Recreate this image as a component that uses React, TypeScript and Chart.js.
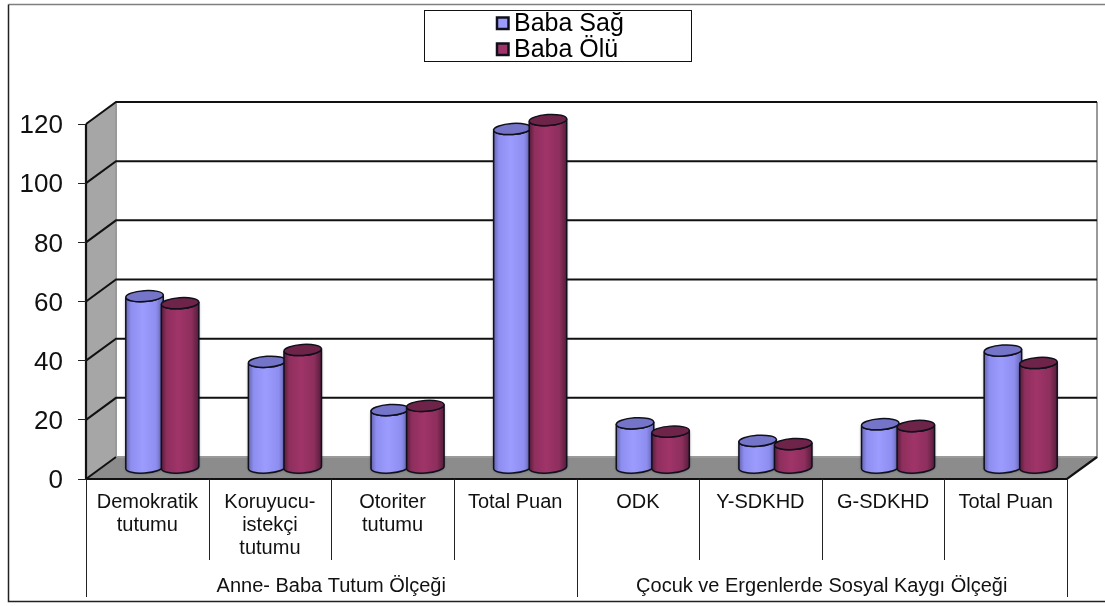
import React, { useEffect, useRef } from "react";
import { Chart, registerables, BarController, BarElement } from "chart.js";

Chart.register(...registerables);

const categories = [
  ["Demokratik", "tutumu"],
  ["Koruyucu-", "istekçi", "tutumu"],
  ["Otoriter", "tutumu"],
  "Total Puan",
  "ODK",
  "Y-SDKHD",
  "G-SDKHD",
  "Total Puan",
];
const groups = ["Anne- Baba Tutum Ölçeği", "Çocuk ve Ergenlerde Sosyal Kaygı Ölçeği"];
const babaSag = [58.1, 35.9, 19.6, 114.6, 15.1, 9.2, 14.8, 39.7];
const babaOlu = [55.7, 39.9, 21, 117.6, 12.3, 8.1, 14.2, 35.5];
const seriesNames = ["Baba Sağ", "Baba Ölü"];
const seriesColors = ["#9c9cff", "#a03468"];

const shades: Record<string, { mid: string; edge: string; cap: string }> = {
  "#9c9cff": { mid: "#8e8ef0", edge: "#6464b0", cap: "#7474c8" },
  "#a03468": { mid: "#8e2f5e", edge: "#561c3a", cap: "#6e2448" },
};

const FONT = '"Liberation Sans", Arial, sans-serif';
const DEPTH_X = 30;
const DEPTH_Y = 22;
const BAR_DX = 15;
const BAR_DY = 11;
const RY = 5.5;
const TILT = -0.065;

class CylinderElement extends BarElement {
  static id = "cylinder";
  static defaults = BarElement.defaults;
  static defaultRoutes = BarElement.defaultRoutes;
  draw(ctx: CanvasRenderingContext2D) {
    const { x, y, base, width } = (this as any).getProps(["x", "y", "base", "width"]);
    const color = (this as any).options.backgroundColor;
    const shade = shades[color];
    const cx = x + BAR_DX;
    const rx = width / 2 + 1;
    const top = y - BAR_DY;
    const bot = base - BAR_DY;
    const ex = rx * Math.cos(TILT);
    const ey = rx * Math.sin(TILT);
    const g = ctx.createLinearGradient(cx - rx, 0, cx + rx, 0);
    g.addColorStop(0, shade.edge);
    g.addColorStop(0.14, shade.mid);
    g.addColorStop(0.45, color);
    g.addColorStop(0.8, shade.mid);
    g.addColorStop(1, shade.edge);
    ctx.save();
    ctx.lineWidth = 1.5;
    ctx.strokeStyle = "#10101c";
    ctx.shadowColor = "rgba(0,0,0,0.5)";
    ctx.shadowBlur = 3;
    ctx.beginPath();
    ctx.moveTo(cx - ex, top - ey);
    ctx.lineTo(cx - ex, bot - ey);
    ctx.ellipse(cx, bot, rx, RY, TILT, Math.PI, 0, true);
    ctx.lineTo(cx + ex, top + ey);
    ctx.ellipse(cx, top, rx, RY, TILT, 0, Math.PI, false);
    ctx.closePath();
    ctx.fillStyle = g;
    ctx.fill();
    ctx.shadowBlur = 0;
    ctx.shadowColor = "transparent";
    ctx.stroke();
    ctx.beginPath();
    ctx.ellipse(cx, top, rx, RY, TILT, 0, Math.PI * 2);
    ctx.fillStyle = shade.cap;
    ctx.fill();
    ctx.stroke();
    ctx.restore();
  }
}

class CylinderController extends BarController {
  static id = "cylinderBar";
  static defaults = { ...BarController.defaults, dataElementType: "cylinder" };
  static overrides = BarController.overrides;
}
Chart.register(CylinderElement, CylinderController);

const scene = {
  id: "scene",
  beforeDraw(chart: any) {
    const { ctx, chartArea: a, scales } = chart;
    const { left: l, right: r, top: t, bottom: b } = a;
    const bx = DEPTH_X;
    const by = DEPTH_Y;
    ctx.save();
    ctx.fillStyle = "#fff";
    ctx.fillRect(0, 0, chart.width, chart.height);
    // outer frame: open to the right edge of the picture
    ctx.strokeStyle = "#808080";
    ctx.lineWidth = 1.5;
    ctx.beginPath();
    ctx.moveTo(1105, 4.5);
    ctx.lineTo(8.5, 4.5);
    ctx.stroke();
    ctx.strokeStyle = "#222";
    ctx.beginPath();
    ctx.moveTo(8.5, 4.5);
    ctx.lineTo(8.5, 601.5);
    ctx.lineTo(1105, 601.5);
    ctx.stroke();
    // side wall
    ctx.fillStyle = "#a6a6a6";
    ctx.beginPath();
    ctx.moveTo(l, t);
    ctx.lineTo(l + bx, t - by);
    ctx.lineTo(l + bx, b - by);
    ctx.lineTo(l, b);
    ctx.closePath();
    ctx.fill();
    // floor
    ctx.fillStyle = "#8c8c8c";
    ctx.beginPath();
    ctx.moveTo(l, b);
    ctx.lineTo(l + bx, b - by);
    ctx.lineTo(r + bx, b - by);
    ctx.lineTo(r, b);
    ctx.closePath();
    ctx.fill();
    // back wall edge
    ctx.strokeStyle = "#9a9a9a";
    ctx.lineWidth = 2;
    ctx.beginPath();
    ctx.moveTo(r + bx, t - by);
    ctx.lineTo(r + bx, b - by);
    ctx.lineTo(l + bx, b - by);
    ctx.lineTo(l + bx, t - by);
    ctx.stroke();
    // grid
    ctx.strokeStyle = "#111";
    ctx.lineWidth = 2;
    for (const tick of scales.y.ticks) {
      const y = scales.y.getPixelForValue(tick.value);
      ctx.beginPath();
      ctx.moveTo(l, y);
      ctx.lineTo(l + bx, y - by);
      if (tick.value > 0) ctx.lineTo(r + bx, y - by);
      ctx.stroke();
    }
    // axis lines
    ctx.strokeStyle = "#111";
    ctx.lineWidth = 2.2;
    ctx.beginPath();
    ctx.moveTo(l, t);
    ctx.lineTo(l, b);
    ctx.lineTo(r, b);
    ctx.lineTo(r + bx, b - by);
    ctx.stroke();
    ctx.restore();
  },
  beforeDatasetsDraw(chart: any) {
    // the right-hand series overlaps the left-hand one
    chart.getDatasetMeta(0).controller.draw();
    chart.getDatasetMeta(1).controller.draw();
    return false;
  },
  afterDraw(chart: any) {
    const { ctx, chartArea: a, scales } = chart;
    const n = categories.length;
    const step = (a.right - a.left) / n;
    ctx.save();
    // category separators
    ctx.strokeStyle = "#222";
    ctx.lineWidth = 1;
    for (let i = 0; i <= n; i++) {
      const x = Math.round(scales.x.getPixelForValue(i) - step / 2) + 0.5;
      const long = i === 0 || i === n / 2 || i === n;
      ctx.beginPath();
      ctx.moveTo(x, a.bottom);
      ctx.lineTo(x, long ? 597 : 560);
      ctx.stroke();
    }
    // legend
    ctx.fillStyle = "#fff";
    ctx.strokeStyle = "#111";
    ctx.lineWidth = 1;
    ctx.fillRect(424.5, 10.5, 267, 51);
    ctx.strokeRect(424.5, 10.5, 267, 51);
    ctx.font = `25px ${FONT}`;
    ctx.textAlign = "left";
    ctx.textBaseline = "middle";
    chart.data.datasets.forEach((d: any, i: number) => {
      const y = 23.5 + i * 26;
      ctx.fillStyle = d.backgroundColor;
      ctx.strokeStyle = "#10101c";
      ctx.lineWidth = 2.5;
      ctx.fillRect(497, y - 6, 11.5, 11.5);
      ctx.strokeRect(497, y - 6, 11.5, 11.5);
      ctx.fillStyle = "#000";
      ctx.fillText(seriesNames[i], 514, y + 1);
    });
    ctx.restore();
  },
};

export default function App() {
  const ref = useRef<HTMLCanvasElement>(null);
  useEffect(() => {
    const chart = new Chart(ref.current as HTMLCanvasElement, {
      type: "cylinderBar" as any,
      data: {
        labels: categories as any,
        datasets: [
          {
            label: seriesNames[0],
            data: babaSag,
            backgroundColor: seriesColors[0],
            categoryPercentage: 0.58,
            barPercentage: 1,
            clip: false,
          } as any,
          {
            label: seriesNames[1],
            data: babaOlu,
            backgroundColor: seriesColors[1],
            categoryPercentage: 0.58,
            barPercentage: 1,
            clip: false,
          } as any,
        ],
      },
      options: {
        animation: false,
        responsive: false,
        layout: { padding: { top: 124, right: 38, bottom: 7, left: 0 } },
        plugins: { legend: { display: false }, tooltip: { enabled: false } },
        scales: {
          x: {
            type: "category",
            position: "bottom",
            offset: true,
            grid: { display: false },
            border: { display: false },
            ticks: {
              color: "#111",
              font: { family: FONT, size: 20, lineHeight: 1.15 },
              maxRotation: 0,
              autoSkip: false,
              padding: 4,
            },
            afterFit(s: any) {
              s.height = 88;
            },
          },
          x2: {
            type: "category",
            position: "bottom",
            labels: groups,
            offset: true,
            grid: { display: false },
            border: { display: false },
            ticks: {
              color: "#111",
              font: { family: FONT, size: 20, lineHeight: 1.15 },
              maxRotation: 0,
              autoSkip: false,
              padding: 0,
            },
            afterFit(s: any) {
              s.height = 32;
            },
          },
          y: {
            min: 0,
            max: 120,
            grid: { drawOnChartArea: false, drawTicks: true, tickLength: 8, color: "#222" },
            border: { display: false },
            ticks: {
              stepSize: 20,
              color: "#111",
              font: { family: FONT, size: 26 },
              padding: 15,
              labelOffset: 2,
            },
            afterFit(s: any) {
              s.width = 86;
            },
          },
        },
      } as any,
      plugins: [scene],
    });
    return () => chart.destroy();
  }, []);
  return (
    <div style={{ position: "absolute", left: 0, top: 0, width: 1105, height: 606 }}>
      <canvas ref={ref} width={1105} height={606} style={{ display: "block" }} />
    </div>
  );
}
